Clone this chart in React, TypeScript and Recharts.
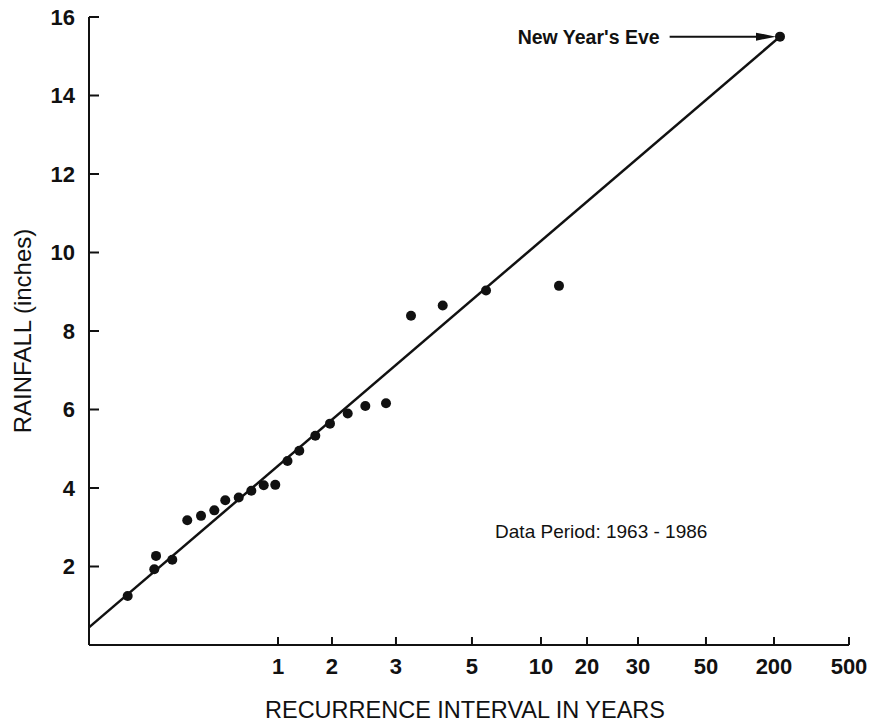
import {
  ComposedChart,
  Scatter,
  Line,
  XAxis,
  YAxis,
  ReferenceLine,
  ReferenceDot,
} from "recharts";

// Horizontal axis is a plotting-position scale: 0 = left edge, 100 = right edge.
const intervalTickPositions = [24.87, 31.97, 40.39, 50.39, 59.47, 65.53, 72.24, 81.18, 90.13, 100];
const intervalTickLabels = ["1", "2", "3", "5", "10", "20", "30", "50", "200", "500"];

const rainfallTicks = [2, 4, 6, 8, 10, 12, 14, 16];

// Annual maximum storms, ranked
const stormPositions = [
  5.09, 8.59, 8.82, 10.96, 12.93, 14.74, 16.49, 17.93, 19.7, 21.36, 22.99, 24.51,
  26.12, 27.67, 29.78, 31.71, 34.04, 36.36, 39.08, 42.37, 46.54, 52.24, 61.84, 90.92,
];
const stormRainfall = [
  1.25, 1.93, 2.27, 2.17, 3.18, 3.29, 3.43, 3.69, 3.76, 3.93, 4.07, 4.08,
  4.69, 4.95, 5.33, 5.64, 5.9, 6.09, 6.16, 8.39, 8.65, 9.03, 9.15, 15.5,
];

// Fitted frequency line
const fitPositions = [0, 90.92];
const fitRainfall = [0.45, 15.5];

const INK = "#111";
const FONT = "'Liberation Sans', Arial, Helvetica, sans-serif";

const storms = stormPositions.map((pos, i) => ({ pos, rain: stormRainfall[i] }));
const fitLine = fitPositions.map((pos, i) => ({ pos, rain: fitRainfall[i] }));
const newYearsEve = storms[storms.length - 1];

function intervalLabel(pos: number) {
  const i = intervalTickPositions.indexOf(pos);
  return i >= 0 ? intervalTickLabels[i] : "";
}

export default function App() {
  const tickStyle = { fill: INK, fontSize: 22, fontWeight: 700, fontFamily: FONT };

  return (
    <div style={{ width: 870, height: 725, background: "#fff" }}>
      <style>{`body { margin: 0; }`}</style>
      <ComposedChart
        width={870}
        height={725}
        margin={{ top: 17, right: 21, bottom: 0, left: 0 }}
      >
        <XAxis
          type="number"
          dataKey="pos"
          domain={[0, 100]}
          ticks={intervalTickPositions}
          tickFormatter={intervalLabel}
          interval={0}
          height={80}
          tickSize={-8}
          tickMargin={21}
          stroke={INK}
          strokeWidth={2}
          tick={tickStyle}
          label={{
            value: "RECURRENCE INTERVAL IN YEARS",
            position: "center",
            dy: 25,
            dx: -4,
            fill: INK,
            fontSize: 23.5,
            fontFamily: FONT,
          }}
        />
        <YAxis
          type="number"
          dataKey="rain"
          domain={[0, 16]}
          ticks={rainfallTicks}
          interval={0}
          width={89}
          tickSize={-10}
          tickMargin={24}
          stroke={INK}
          strokeWidth={2}
          tick={tickStyle}
          label={{
            value: "RAINFALL (inches)",
            angle: -90,
            position: "center",
            dx: -22,
            fill: INK,
            fontSize: 24,
            fontFamily: FONT,
          }}
        />
        <Line
          data={fitLine}
          dataKey="rain"
          type="linear"
          stroke={INK}
          strokeWidth={2.5}
          dot={false}
          activeDot={false}
          isAnimationActive={false}
        />
        <Scatter
          data={storms}
          dataKey="rain"
          fill={INK}
          isAnimationActive={false}
          shape={(p: any) => <circle cx={p.cx} cy={p.cy} r={5} fill={INK} />}
        />
        <ReferenceLine
          segment={[
            { x: 76.4, y: newYearsEve.rain },
            { x: 88, y: newYearsEve.rain },
          ]}
          stroke={INK}
          strokeWidth={2}
          label={{
            value: "New Year's Eve",
            position: "left",
            offset: 10,
            fill: INK,
            fontSize: 19.5,
            fontWeight: 700,
            fontFamily: FONT,
          }}
        />
        <ReferenceDot
          x={newYearsEve.pos}
          y={newYearsEve.rain}
          shape={(p: any) => (
            <polygon
              points={`${p.cx - 4},${p.cy} ${p.cx - 24},${p.cy - 4} ${p.cx - 24},${p.cy + 4}`}
              fill={INK}
            />
          )}
        />
        <ReferenceDot
          x={67.4}
          y={2.88}
          shape={(p: any) => (
            <text
              x={p.cx}
              y={p.cy}
              textAnchor="middle"
              dominantBaseline="central"
              fill={INK}
              fontSize={19}
              fontFamily={FONT}
            >
              Data Period: 1963 - 1986
            </text>
          )}
        />
      </ComposedChart>
    </div>
  );
}
